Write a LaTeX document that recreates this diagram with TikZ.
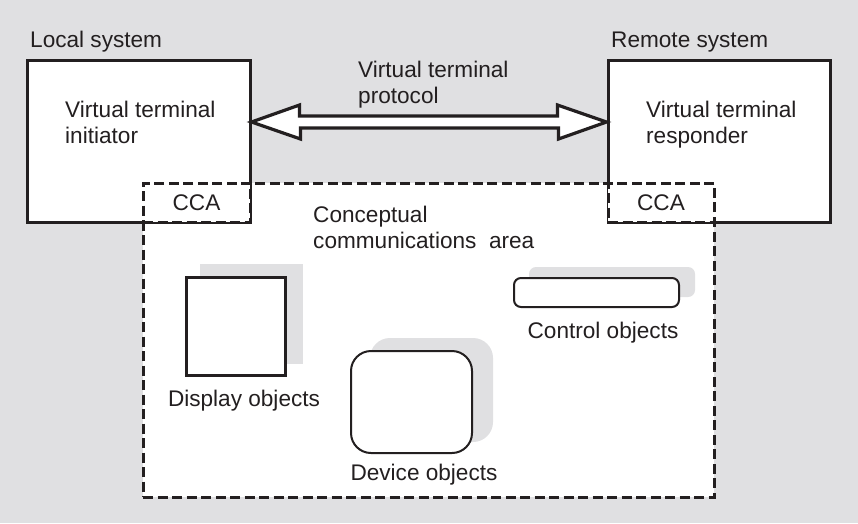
\documentclass[tikz,border=0pt]{standalone}
\usepackage{fontspec}
\setmainfont{Liberation Sans}
\definecolor{vtgray}{RGB}{224, 224, 226}
\definecolor{vtink}{RGB}{35, 31, 32}
\usetikzlibrary{positioning, calc}

\begin{document}
\begin{tikzpicture}[x=1pt, y=-1pt, font=\fontsize{22.6}{26}\selectfont, text=vtink,
  sysbox/.style={draw=vtink, fill=white, line width=3pt, inner sep=0pt},
  areabox/.style={draw=vtink, fill=white, line width=3pt, dash pattern=on 10pt off 4.5pt, inner sep=0pt},
  objbox/.style={draw=vtink, fill=white, inner sep=0pt},
  shadowbox/.style={fill=vtgray, inner sep=0pt},
  lbl/.style={inner sep=0pt, align=left}]
  % background
  \fill[vtgray] (0,0) rectangle (858,523);
  \useasboundingbox (0,0) rectangle (858,523);

  % conceptual communications area
  \node[areabox, minimum width=571pt, minimum height=314pt] (area) at (428.5,340) {};

  % local and remote systems
  \node[sysbox, minimum width=223pt, minimum height=162pt] (local) at (138.5,141) {};
  \node[sysbox, minimum width=222pt, minimum height=162pt] (remote) at (719,141) {};
  \node[lbl, anchor=base west] (locallbl) at (30,47) {Local system};
  \node[lbl, anchor=base west] (remotelbl) at (611,47) {Remote system};
  \node[lbl, anchor=north west] (initiator) at (65,101) {Virtual terminal\\initiator};
  \node[lbl, anchor=north west] (responder) at (646,101) {Virtual terminal\\responder};

  % CCA corners
  \node[areabox, minimum width=107pt, minimum height=39pt] (ccal) at (196.5,202.5) {CCA};
  \node[areabox, minimum width=106pt, minimum height=39pt] (ccar) at (661,202.5) {CCA};
  \node[lbl, anchor=north west] (arealbl) at (313,206) {Conceptual\\communications\ \ area};

  % protocol arrow
  \draw[vtink, fill=white, line width=3.2pt, line join=miter]
    ([yshift=19pt]local.east) -- ++(48,-17) -- ++(0,11) -- ++(258,0) -- ++(0,-11)
    -- ([yshift=19pt]remote.west) -- ++(-48,17) -- ++(0,-11) -- ++(-258,0) -- ++(0,11) -- cycle;
  \node[lbl, anchor=north west] (protolbl) at (358,61) {Virtual terminal\\protocol};

  % display objects
  \node[shadowbox, minimum width=103pt, minimum height=100pt] (dispshadow) at (251.5,314) {};
  \node[objbox, line width=3pt, minimum width=99pt, minimum height=98pt] (display) at (235.5,326) {};
  \node[lbl, anchor=base] (displbl) at (244,406) {Display objects};

  % device objects
  \node[shadowbox, rounded corners=20pt, minimum width=123pt, minimum height=104pt] (devshadow) at (431.5,390) {};
  \node[objbox, line width=2pt, rounded corners=20pt, minimum width=121pt, minimum height=102pt] (device) at (411.5,402) {};
  \node[lbl, anchor=base] (devlbl) at (424,480) {Device objects};

  % control objects
  \node[shadowbox, rounded corners=7pt, minimum width=166pt, minimum height=30pt] (ctrlshadow) at (612,282) {};
  \node[objbox, line width=2pt, rounded corners=7pt, minimum width=165pt, minimum height=29pt] (control) at (596.5,292.5) {};
  \node[lbl, anchor=base] (ctrllbl) at (603,338) {Control objects};
\end{tikzpicture}
\end{document}
